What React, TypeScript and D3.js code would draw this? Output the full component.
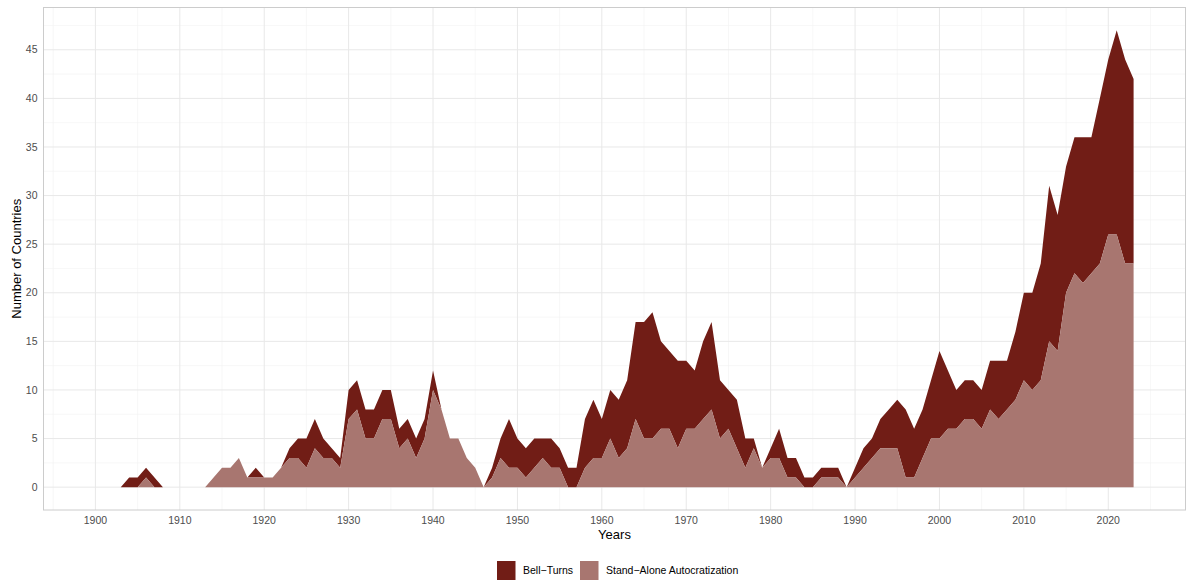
import { useEffect, useRef } from 'react'
import * as d3 from 'd3'

// years 1900..2023
const years = d3.range(1900, 2024)

// total number of countries (top of the stack)
const totalCountries = [
  0, 0, 0, 0, 1, 1, 2, 1, 0, 0,
  0, 0, 0, 0, 1, 2, 2, 3, 1, 2,
  1, 1, 2, 4, 5, 5, 7, 5, 4, 3,
  10, 11, 8, 8, 10, 10, 6, 7, 5, 7,
  12, 8, 5, 5, 3, 2, 0, 2, 5, 7,
  5, 4, 5, 5, 5, 4, 2, 2, 7, 9,
  7, 10, 9, 11, 17, 17, 18, 15, 14, 13,
  13, 12, 15, 17, 11, 10, 9, 5, 5, 2,
  4, 6, 3, 3, 1, 1, 2, 2, 2, 0,
  2, 4, 5, 7, 8, 9, 8, 6, 8, 11,
  14, 12, 10, 11, 11, 10, 13, 13, 13, 16,
  20, 20, 23, 31, 28, 33, 36, 36, 36, 40,
  44, 47, 44, 42,
]

// stand-alone autocratization episodes
const standAlone = [
  0, 0, 0, 0, 0, 0, 1, 0, 0, 0,
  0, 0, 0, 0, 1, 2, 2, 3, 1, 1,
  1, 1, 2, 3, 3, 2, 4, 3, 3, 2,
  7, 8, 5, 5, 7, 7, 4, 5, 3, 5,
  10, 8, 5, 5, 3, 2, 0, 1, 3, 2,
  2, 1, 2, 3, 2, 2, 0, 0, 2, 3,
  3, 5, 3, 4, 7, 5, 5, 6, 6, 4,
  6, 6, 7, 8, 5, 6, 4, 2, 4, 2,
  3, 3, 1, 1, 0, 0, 1, 1, 1, 0,
  1, 2, 3, 4, 4, 4, 1, 1, 3, 5,
  5, 6, 6, 7, 7, 6, 8, 7, 8, 9,
  11, 10, 11, 15, 14, 20, 22, 21, 22, 23,
  26, 26, 23, 23,
]

const xTicks = d3.range(1900, 2021, 10)
const xMinor = d3.range(1895, 2026, 10)
const yTicks = d3.range(0, 46, 5)
const yMinor = d3.range(2.5, 48, 5)

const legendItems = ['Bell\u2212Turns', 'Stand\u2212Alone Autocratization']

const DARK = '#711d16'
const LIGHT = '#a87670'
const FONT = '"Liberation Sans", Arial, Helvetica, sans-serif'

interface Row {
  year: number
  total: number
  stand: number
}

export default function App() {
  const svgRef = useRef<SVGSVGElement>(null)

  useEffect(() => {
    if (!svgRef.current) return
    const svg = d3.select(svgRef.current)
    svg.selectAll('*').remove()

    const width = 1200
    const height = 586
    const panel = { left: 43.5, right: 1185.5, top: 7.5, bottom: 510 }

    const rows: Row[] = years.map((year, i) => ({
      year,
      total: totalCountries[i],
      stand: standAlone[i],
    }))

    const yMax = d3.max(totalCountries) || 0
    const xPad = (2023 - 1900) * 0.05
    const yPad = yMax * 0.05

    const x = d3.scaleLinear()
      .domain([1900 - xPad, 2023 + xPad])
      .range([panel.left, panel.right])

    const y = d3.scaleLinear()
      .domain([-yPad, yMax + yPad])
      .range([panel.bottom, panel.top])

    svg.attr('width', width).attr('height', height)

    svg.append('rect')
      .attr('width', width)
      .attr('height', height)
      .attr('fill', '#ffffff')

    // grid
    const grid = svg.append('g')
    grid.selectAll('.xminor')
      .data(xMinor)
      .join('line')
      .attr('x1', d => x(d)).attr('x2', d => x(d))
      .attr('y1', panel.top).attr('y2', panel.bottom)
      .attr('stroke', '#f2f2f2').attr('stroke-width', 0.6)
    grid.selectAll('.yminor')
      .data(yMinor)
      .join('line')
      .attr('y1', d => y(d)).attr('y2', d => y(d))
      .attr('x1', panel.left).attr('x2', panel.right)
      .attr('stroke', '#f2f2f2').attr('stroke-width', 0.6)
    grid.selectAll('.xmajor')
      .data(xTicks)
      .join('line')
      .attr('x1', d => x(d)).attr('x2', d => x(d))
      .attr('y1', panel.top).attr('y2', panel.bottom)
      .attr('stroke', '#e8e8e8').attr('stroke-width', 1)
    grid.selectAll('.ymajor')
      .data(yTicks)
      .join('line')
      .attr('y1', d => y(d)).attr('y2', d => y(d))
      .attr('x1', panel.left).attr('x2', panel.right)
      .attr('stroke', '#e8e8e8').attr('stroke-width', 1)

    // stacked areas
    const standArea = d3.area<Row>()
      .x(d => x(d.year))
      .y0(y(0))
      .y1(d => y(d.stand))

    const bellArea = d3.area<Row>()
      .x(d => x(d.year))
      .y0(d => y(d.stand))
      .y1(d => y(d.total))

    svg.append('path')
      .datum(rows)
      .attr('fill', DARK)
      .attr('d', bellArea)

    svg.append('path')
      .datum(rows)
      .attr('fill', LIGHT)
      .attr('d', standArea)

    // panel border
    svg.append('rect')
      .attr('x', panel.left)
      .attr('y', panel.top)
      .attr('width', panel.right - panel.left)
      .attr('height', panel.bottom - panel.top)
      .attr('fill', 'none')
      .attr('stroke', '#cccccc')
      .attr('stroke-width', 1)

    // axis labels
    svg.append('g')
      .selectAll('text')
      .data(xTicks)
      .join('text')
      .attr('x', d => x(d))
      .attr('y', 524)
      .attr('text-anchor', 'middle')
      .attr('font-family', FONT)
      .attr('font-size', 10.5)
      .attr('fill', '#4d4d4d')
      .text(d => d)

    svg.append('g')
      .selectAll('text')
      .data(yTicks)
      .join('text')
      .attr('x', 37.5)
      .attr('y', d => y(d))
      .attr('dy', '0.35em')
      .attr('text-anchor', 'end')
      .attr('font-family', FONT)
      .attr('font-size', 10.5)
      .attr('fill', '#4d4d4d')
      .text(d => d)

    svg.append('text')
      .attr('x', (panel.left + panel.right) / 2)
      .attr('y', 539)
      .attr('text-anchor', 'middle')
      .attr('font-family', FONT)
      .attr('font-size', 13)
      .attr('fill', '#000000')
      .text('Years')

    svg.append('text')
      .attr('transform', `translate(20.5,${(panel.top + panel.bottom) / 2}) rotate(-90)`)
      .attr('text-anchor', 'middle')
      .attr('font-family', FONT)
      .attr('font-size', 13)
      .attr('fill', '#000000')
      .text('Number of Countries')

    // legend
    const legend = svg.append('g').attr('transform', 'translate(497,561)')
    const keyX = [0, 83]
    const colors = [DARK, LIGHT]
    legendItems.forEach((label, i) => {
      legend.append('rect')
        .attr('x', keyX[i])
        .attr('y', 0)
        .attr('width', 18.5)
        .attr('height', 19)
        .attr('fill', colors[i])
      legend.append('text')
        .attr('x', keyX[i] + 26)
        .attr('y', 9.5)
        .attr('dy', '0.35em')
        .attr('font-family', FONT)
        .attr('font-size', 10.5)
        .attr('fill', '#000000')
        .text(label)
    })
  }, [])

  return (
    <div style={{ position: 'absolute', left: 0, top: 0 }}>
      <svg ref={svgRef} style={{ display: 'block' }} />
    </div>
  )
}
